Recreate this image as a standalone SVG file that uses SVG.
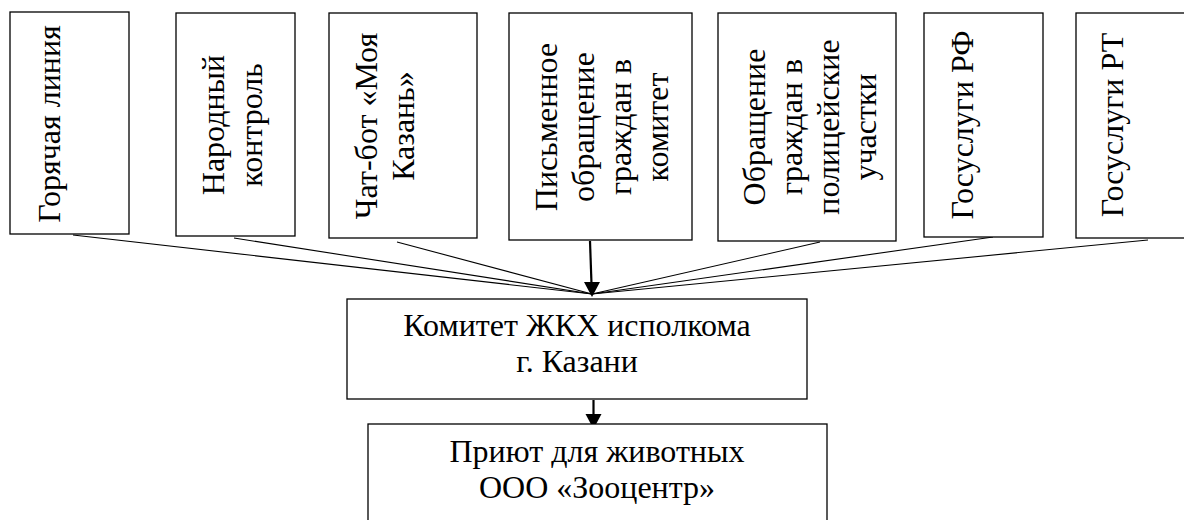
<svg xmlns="http://www.w3.org/2000/svg" width="1184" height="520" viewBox="0 0 1184 520">
<style>
.box{fill:#fff;stroke:#000;stroke-width:1.3}
.t{font-family:'Liberation Serif','Times New Roman',serif;font-size:32px;fill:#000;text-anchor:middle}
.ln{stroke:#000;stroke-width:1.1;fill:none}
.ar{stroke:#000;stroke-width:2.2;fill:none}
.hd{fill:#000;stroke:none}
</style>
<rect width="1184" height="520" fill="#fff"/>
<g id="connectors">
<line class="ln" x1="73" y1="235" x2="592" y2="294"/>
<line class="ln" x1="234" y1="238" x2="592" y2="294"/>
<line class="ln" x1="397" y1="242" x2="592" y2="294"/>
<line class="ln" x1="820" y1="242" x2="592" y2="294"/>
<line class="ln" x1="993" y1="237" x2="592" y2="294"/>
<line class="ln" x1="1148" y1="240" x2="592" y2="294"/>
<line class="ar" x1="590" y1="241" x2="591.5" y2="284"/>
<polygon class="hd" points="584,282 600,282 592,297"/>
<line class="ar" x1="593.5" y1="400" x2="593.5" y2="416"/>
<polygon class="hd" points="585.5,414 601.5,414 593.5,429"/>
</g>
<g id="n1">
<rect class="box" x="10" y="12" width="119" height="222"/>
<text class="t" transform="translate(60,124) rotate(-90)">Горячая линия</text>
</g>
<g id="n2">
<rect class="box" x="176" y="13" width="119" height="223"/>
<text class="t" transform="translate(224,125) rotate(-90)">Народный</text>
<text class="t" transform="translate(262,125) rotate(-90)">контроль</text>
</g>
<g id="n3">
<rect class="box" x="329" y="13" width="148" height="225"/>
<text class="t" transform="translate(377,126) rotate(-90)">Чат-бот «Моя</text>
<text class="t" transform="translate(414,126) rotate(-90)">Казань»</text>
</g>
<g id="n4">
<rect class="box" x="509" y="13" width="183" height="227"/>
<text class="t" transform="translate(557,127) rotate(-90)">Письменное</text>
<text class="t" transform="translate(594,127) rotate(-90)">обращение</text>
<text class="t" transform="translate(631,127) rotate(-90)">граждан в</text>
<text class="t" transform="translate(668,127) rotate(-90)">комитет</text>
</g>
<g id="n5">
<rect class="box" x="718" y="13" width="178" height="228"/>
<text class="t" transform="translate(765,127) rotate(-90)">Обращение</text>
<text class="t" transform="translate(802,127) rotate(-90)">граждан в</text>
<text class="t" transform="translate(839,127) rotate(-90)">полицейские</text>
<text class="t" transform="translate(876,127) rotate(-90)">участки</text>
</g>
<g id="n6">
<rect class="box" x="924" y="13" width="119" height="224"/>
<text class="t" transform="translate(973,125) rotate(-90)">Госуслуги РФ</text>
</g>
<g id="n7">
<rect class="box" x="1076" y="13" width="120" height="225"/>
<text class="t" transform="translate(1123,125) rotate(-90)">Госуслуги РТ</text>
</g>
<g id="n8">
<rect class="box" x="347" y="299" width="460" height="100"/>
<text class="t" x="577" y="336">Комитет ЖКХ исполкома</text>
<text class="t" x="577" y="372">г. Казани</text>
</g>
<g id="n9">
<rect class="box" x="368" y="424" width="459" height="110"/>
<text class="t" x="597" y="462">Приют для животных</text>
<text class="t" x="597" y="498">ООО «Зооцентр»</text>
</g>
</svg>
